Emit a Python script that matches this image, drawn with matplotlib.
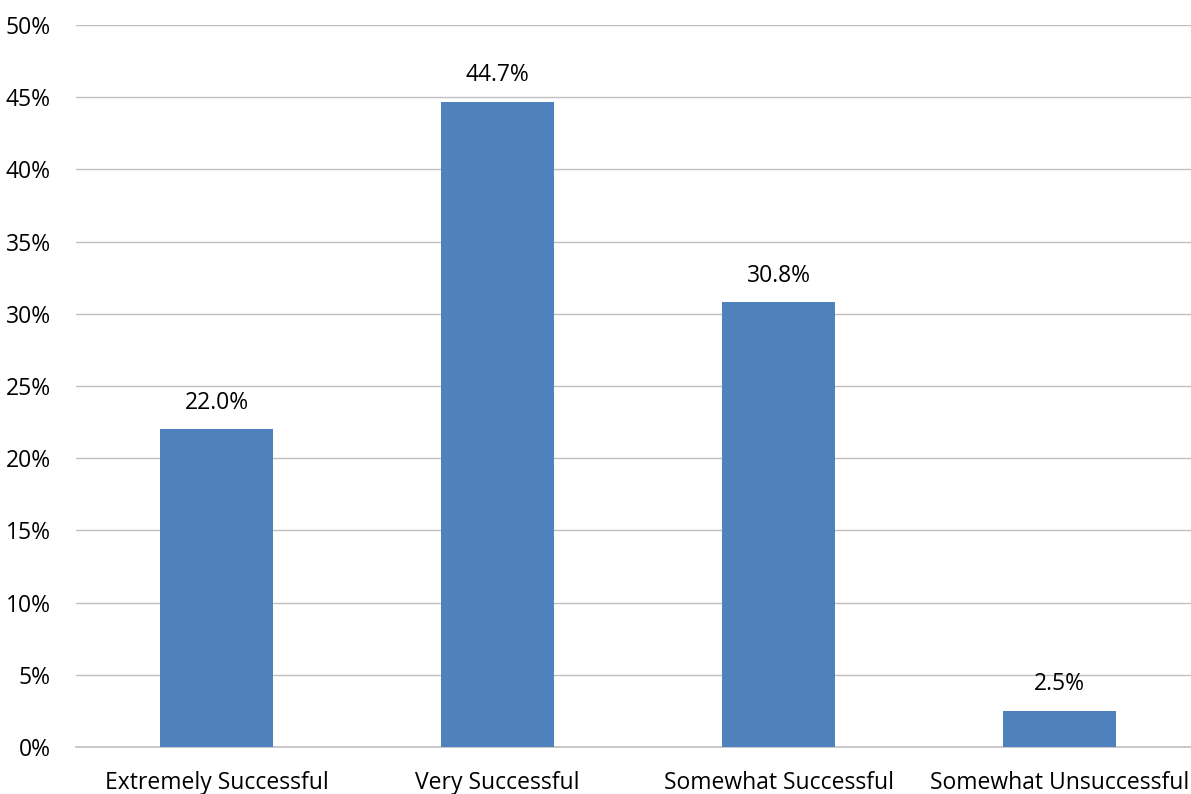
import matplotlib
matplotlib.use("Agg")
import matplotlib.pyplot as plt
from matplotlib.ticker import PercentFormatter, MultipleLocator

categories = ["Extremely Successful", "Very Successful",
              "Somewhat Successful", "Somewhat Unsuccessful"]
shares = [22.0, 44.7, 30.8, 2.5]

plt.rcParams["font.family"] = ["Open Sans", "DejaVu Sans"]

fig = plt.figure(figsize=(11.91, 7.94), dpi=100)
# axes runs slightly past the right edge of the canvas
ax = fig.add_axes([76 / 1191, 47 / 794, 1124 / 1191, 722 / 794])

x = range(len(categories))
ax.bar(x, shares, width=0.4, color="#4F81BD", zorder=3)

for xi, v in zip(x, shares):
    ax.text(xi, v + 1.0, f"{v:.1f}%", ha="center", va="bottom",
            fontsize=16.5, color="#000000")

ax.set_xlim(-0.5, 3.5)
ax.set_ylim(0, 50)
ax.yaxis.set_major_locator(MultipleLocator(5))
ax.yaxis.set_major_formatter(PercentFormatter(decimals=0))
ax.set_xticks(list(x))
ax.set_xticklabels(categories)
ax.tick_params(axis="both", length=0, labelsize=16.5, colors="#000000")
ax.tick_params(axis="x", pad=17)
ax.tick_params(axis="y", pad=18)

ax.grid(axis="y", color="#C0C0C0", linewidth=1.0, zorder=0)
for side in ["top", "right", "left"]:
    ax.spines[side].set_visible(False)
ax.spines["bottom"].set_color("#C0C0C0")
ax.spines["bottom"].set_linewidth(1.2)

fig.savefig("out.png", dpi=100)
